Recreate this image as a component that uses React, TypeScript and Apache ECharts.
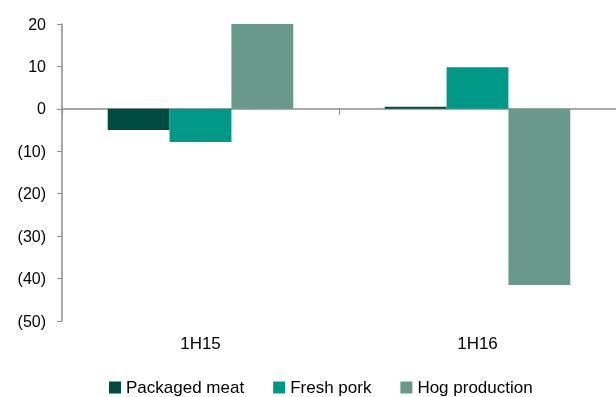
import React, { useEffect, useRef } from "react";
import * as echarts from "echarts";

const categories = ["1H15", "1H16"];
const packagedMeat = [-5.0, 0.5];
const freshPork = [-7.8, 9.8];
const hogProduction = [20.0, -41.5];

const seriesNames = ["Packaged meat", "Fresh pork", "Hog production"];
const seriesColors = ["#004B41", "#009887", "#68998A"];

const fmt = (v: number) => (v < 0 ? `(${Math.abs(v)})` : `${v}`);

export default function App() {
  const ref = useRef<HTMLDivElement>(null);
  useEffect(() => {
    if (!ref.current) return;
    const chart = echarts.init(ref.current, undefined, { renderer: "svg" });
    const font = "Liberation Sans, Arial, sans-serif";
    const data = [packagedMeat, freshPork, hogProduction];
    chart.setOption({
      animation: false,
      textStyle: { fontFamily: font },
      grid: { left: 62, right: -1, top: 24, bottom: 76, containLabel: false },
      legend: {
        bottom: -4,
        left: 104,
        itemWidth: 12,
        itemHeight: 12,
        itemGap: 29,
        icon: "rect",
        textStyle: { fontSize: 17, color: "#000", fontFamily: font },
        data: seriesNames,
      },
      xAxis: [
        {
          type: "category",
          data: categories,
          position: "bottom",
          axisLine: { onZero: true, lineStyle: { color: "#8C8C8C", width: 1.5 } },
          axisTick: { show: true, length: 6, lineStyle: { color: "#8C8C8C" } },
          axisLabel: { show: false },
        },
        {
          type: "category",
          data: categories,
          position: "bottom",
          axisLine: { show: false, onZero: false },
          axisTick: { show: false },
          axisLabel: { show: true, margin: 14, fontSize: 17, color: "#000", fontFamily: font },
        },
      ],
      yAxis: {
        type: "value",
        min: -50,
        max: 20,
        interval: 10,
        axisLine: { show: true, lineStyle: { color: "#8C8C8C", width: 1.5 } },
        axisTick: { show: true, length: 5, lineStyle: { color: "#8C8C8C" } },
        splitLine: { show: false },
        axisLabel: {
          margin: 16,
          fontSize: 16,
          color: "#000",
          fontFamily: font,
          formatter: (v: number) => fmt(v),
        },
      },
      series: seriesNames.map((name, i) => ({
        name,
        type: "bar",
        xAxisIndex: 0,
        data: data[i],
        barGap: "0%",
        barCategoryGap: "33%",
        itemStyle: { color: seriesColors[i] },
      })),
    });
    return () => chart.dispose();
  }, []);
  return (
    <div
      ref={ref}
      style={{ position: "fixed", left: 0, top: 0, width: 616, height: 397 }}
    />
  );
}
